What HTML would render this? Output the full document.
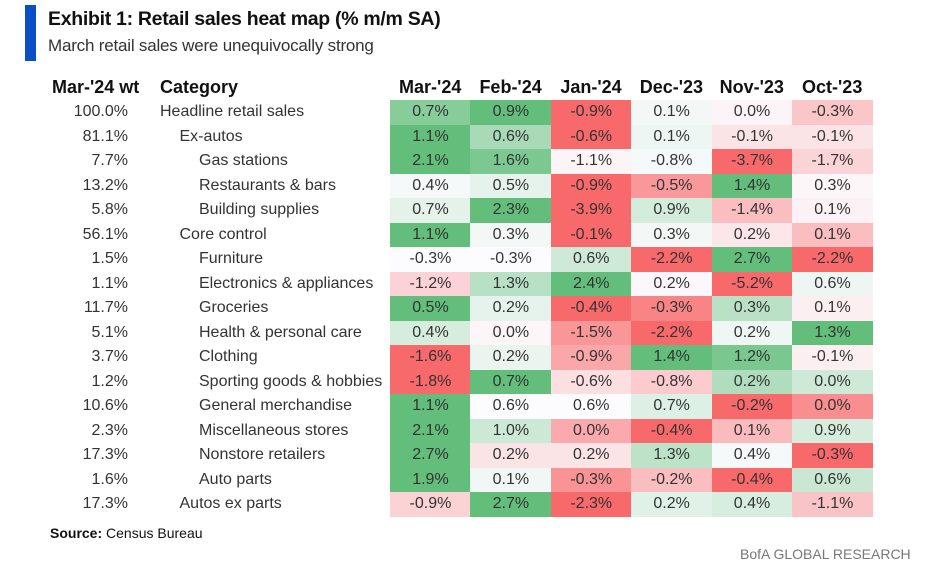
<!DOCTYPE html>
<html><head><meta charset="utf-8">
<style>
body{margin:0;background:#fff;width:930px;height:580px;position:relative;overflow:hidden;font-family:"Liberation Sans",sans-serif;color:#222}
.abs{position:absolute;white-space:nowrap}
.cell{position:absolute;text-align:center;font-size:16px;line-height:24.5px;color:#333}
</style></head><body>
<div class="abs" style="left:25px;top:5px;width:11px;height:56px;background:#0b4fc4"></div>
<div class="abs" style="left:48px;top:8px;font-size:19.5px;font-weight:bold;color:#111;letter-spacing:-0.3px">Exhibit 1: Retail sales heat map (% m/m SA)</div>
<div class="abs" style="left:48px;top:36px;font-size:17px;color:#333;letter-spacing:-0.2px">March retail sales were unequivocally strong</div>
<div id="tbl"></div>
<div class="abs" style="left:50px;top:525px;font-size:14px;color:#111"><b>Source:</b> Census Bureau</div>
<div class="abs" style="left:740px;top:546px;font-size:14px;color:#777">BofA GLOBAL RESEARCH</div>
<script>
const months=["Mar-'24","Feb-'24","Jan-'24","Dec-'23","Nov-'23","Oct-'23"];
const weights=["100.0%","81.1%","7.7%","13.2%","5.8%","56.1%","1.5%","1.1%","11.7%","5.1%","3.7%","1.2%","10.6%","2.3%","17.3%","1.6%","17.3%"];
const categories=["Headline retail sales","Ex-autos","Gas stations","Restaurants & bars","Building supplies","Core control","Furniture","Electronics & appliances","Groceries","Health & personal care","Clothing","Sporting goods & hobbies","General merchandise","Miscellaneous stores","Nonstore retailers","Auto parts","Autos ex parts"];
const indents=[0,1,2,2,2,1,2,2,2,2,2,2,2,2,2,2,1];
const values=[
[0.7,0.9,-0.9,0.1,0.0,-0.3],
[1.1,0.6,-0.6,0.1,-0.1,-0.1],
[2.1,1.6,-1.1,-0.8,-3.7,-1.7],
[0.4,0.5,-0.9,-0.5,1.4,0.3],
[0.7,2.3,-3.9,0.9,-1.4,0.1],
[1.1,0.3,-0.1,0.3,0.2,0.1],
[-0.3,-0.3,0.6,-2.2,2.7,-2.2],
[-1.2,1.3,2.4,0.2,-5.2,0.6],
[0.5,0.2,-0.4,-0.3,0.3,0.1],
[0.4,0.0,-1.5,-2.2,0.2,1.3],
[-1.6,0.2,-0.9,1.4,1.2,-0.1],
[-1.8,0.7,-0.6,-0.8,0.2,0.0],
[1.1,0.6,0.6,0.7,-0.2,0.0],
[2.1,1.0,0.0,-0.4,0.1,0.9],
[2.7,0.2,0.2,1.3,0.4,-0.3],
[1.9,0.1,-0.3,-0.2,-0.4,0.6],
[-0.9,2.7,-2.3,0.2,0.4,-1.1]];

const X0=390,CW=80.4,Y0=100,RH=24.5;
const RED=[248,105,107],WH=[252,252,255],GR=[99,190,123];
function mix(a,b,t){return 'rgb('+a.map((v,i)=>Math.round(v+(b[i]-v)*t)).join(',')+')';}
function color(v,row){
  const s=[...row].sort((a,b)=>a-b);const mn=s[0],mx=s[s.length-1];
  const n=s.length;const med=n%2?s[(n-1)/2]:(s[n/2-1]+s[n/2])/2;
  if(v>=med){return mx===med?mix(WH,GR,0):mix(WH,GR,(v-med)/(mx-med));}
  return mix(WH,RED,(med-v)/(med-mn));
}
const tbl=document.getElementById('tbl');
function add(tag,css,text){const e=document.createElement(tag);e.className='abs';e.style.cssText=css;e.textContent=text;tbl.appendChild(e);return e;}
let h=add('div','left:52px;top:77px;font-size:18px;font-weight:bold;color:#111','Mar-\'24 wt');


h=add('div','left:160px;top:77px;font-size:18px;font-weight:bold;color:#111','Category');


months.forEach((m,j)=>{
  const e=add('div','left:'+(X0+j*CW)+'px;top:77px;width:'+CW+'px;text-align:center;font-size:18px;font-weight:bold;color:#111',m);
  
  
});
categories.forEach((c,i)=>{
  const y=Y0+i*RH;
  const w=add('div','left:40px;width:88px;text-align:right;top:'+y+'px;line-height:24.5px;font-size:16px;color:#333',weights[i]);
  
  
  const cl=add('div','left:'+(160+indents[i]*19.5)+'px;top:'+y+'px;line-height:24.5px;font-size:16px;color:#333',c);
  
  
  values[i].forEach((v,j)=>{
    const e=document.createElement('div');e.className='cell';
    e.style.left=(X0+j*CW)+'px';e.style.top=y+'px';e.style.width=(CW+0.5)+'px';e.style.height=(RH+0.5)+'px';
    e.style.background=color(v,values[i]);
    e.textContent=v.toFixed(1)+'%';
    
    
    tbl.appendChild(e);
  });
});
</script>
</body></html>
